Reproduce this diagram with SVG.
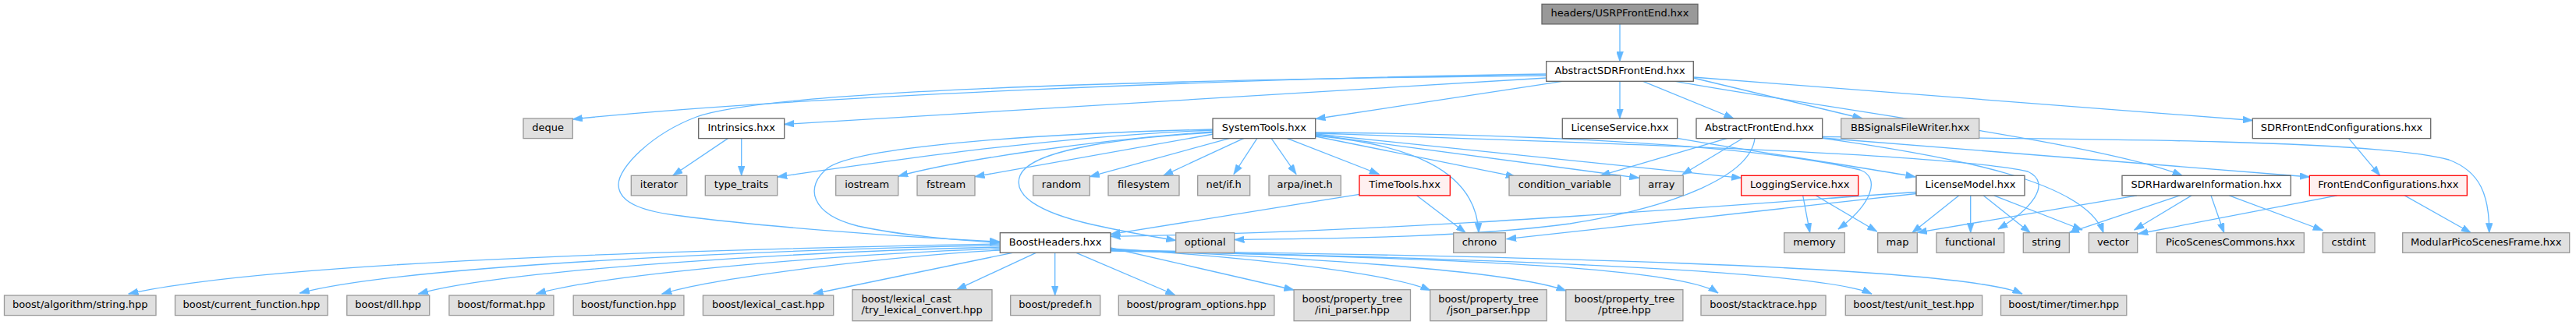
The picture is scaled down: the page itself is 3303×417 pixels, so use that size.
<svg xmlns="http://www.w3.org/2000/svg" width="3303" height="417" viewBox="0 0 3303 417">
<style>
text{font-family:"DejaVu Sans","Liberation Sans",sans-serif;font-size:13px;fill:#000;text-anchor:middle}
text.l{text-anchor:start}
.w{fill:#fff;stroke:#666;stroke-width:1.3}
.g{fill:#e0e0e0;stroke:#999;stroke-width:1.3}
.r{fill:#fff0f0;stroke:#f00;stroke-width:1.3}
.h{fill:#999;stroke:#666;stroke-width:1.3}
#edges path{fill:none;stroke:#63b8ff;stroke-width:1.3;marker-end:url(#ah)}
</style>
<defs>
<marker id="ah" viewBox="0 0 13 9" refX="12.5" refY="4.5" markerWidth="13" markerHeight="9" markerUnits="userSpaceOnUse" orient="auto"><path d="M0,0 L13,4.5 L0,9 z" fill="#63b8ff" stroke="#63b8ff" stroke-width="0.5"/></marker>
</defs>
<rect width="3303" height="417" fill="#fff"/>
<g id="edges">
<path d="M2077,31 L2077,78.7"/>
<path d="M1982.7,95 C1600,100 1000,125 734.3,153"/>
<path d="M1982.7,100 L1005.7,159.5"/>
<path d="M1982.7,97 C1600,101 1000,112 893,150 C835,172 793,215 793,237 C793,262 830,272 873,277 C970,290 1150,304 1281.7,310"/>
<path d="M2003.3,104.3 L1687,152.5"/>
<path d="M2077,104.3 L2077,152"/>
<path d="M2106.7,104.3 L2223,152"/>
<path d="M2171.3,100 L2388,152"/>
<path d="M2171.3,99 L2888.3,154.5"/>
<path d="M2148,104.3 C2350,140 2700,185 2798,225.3"/>
<path d="M933.3,177.6 L862.7,225.3"/>
<path d="M950.7,177.6 L950.7,225.3"/>
<path d="M1555,167 C1350,175 1150,205 996.7,227"/>
<path d="M1555,169 C1400,180 1230,205 1151.7,226"/>
<path d="M1556,172 L1250,226.7"/>
<path d="M1577,177.3 L1397.3,226.7"/>
<path d="M1595,177.3 L1491.7,225.3"/>
<path d="M1612,177.3 L1582,223.5"/>
<path d="M1630,177.3 L1662,223.5"/>
<path d="M1650,177.3 L1768.3,223.5"/>
<path d="M1555,166 C1300,172 1100,190 1062,215 C1030,240 1040,275 1100,290 C1160,303 1230,308 1281.7,311.5"/>
<path d="M1555,170 C1420,178 1320,195 1308,225 C1298,250 1330,272 1400,288 C1440,297 1480,304 1507.7,308.5"/>
<path d="M1687,174 C1800,185 1893,215 1896,298.7"/>
<path d="M1687,175 L1943.3,226.7"/>
<path d="M1687,173 L2101.7,228.3"/>
<path d="M1687,172 L2232.7,228.3"/>
<path d="M1687,170 C1950,172 2250,185 2385,218 C2412,228 2400,262 2357,294"/>
<path d="M1687,171 C2100,185 2500,198 2600,220 C2632,235 2605,268 2562,294"/>
<path d="M2150.7,177.3 C2250,195 2380,213 2456,227"/>
<path d="M2215,177.3 L2052,225.3"/>
<path d="M2235,177.3 L2157,224"/>
<path d="M2250,177.3 C2245,225 2150,265 2013,287 C1880,305 1700,306 1583,307.5"/>
<path d="M2336.7,175.5 C2700,178 3050,180 3140,205 C3180,220 3192,250 3191.7,298.7"/>
<path d="M2336.7,177 L2961.3,227"/>
<path d="M2336.7,177.3 C2520,203 2675,235 2697,298.7"/>
<path d="M1743,249.3 L1424,300.7"/>
<path d="M1816.7,250.9 L1879.3,298.7"/>
<path d="M2311.7,250.9 L2320.7,298.7"/>
<path d="M2328.3,250.9 L2406.7,297"/>
<path d="M2511.7,250.9 L2451.7,298.7"/>
<path d="M2526.7,250.9 L2526.7,298.7"/>
<path d="M2543.3,250.9 L2603.3,298.7"/>
<path d="M2556.7,250.9 L2670,295"/>
<path d="M2457,246.5 C2200,264 1800,298 1424,303.3"/>
<path d="M2457,248.5 L1931.7,306.7"/>
<path d="M2740,250.9 L2458.3,298.3"/>
<path d="M2795,250.9 L2653.3,298.3"/>
<path d="M2810,250.9 L2736.7,295"/>
<path d="M2835,250.9 L2851.7,298.7"/>
<path d="M2858.3,250.9 L2978.3,295.5"/>
<path d="M2996.7,250.9 L2741.7,300"/>
<path d="M3083.3,250.9 L3168.3,298.7"/>
<path d="M3011.7,177.6 L3051.7,225.3"/>
<path d="M1282.3,313 C900,320 350,335 164.9,377"/>
<path d="M1282.3,315 C1000,320 520,340 384.4,376"/>
<path d="M1282.3,317 C1050,322 650,345 536.6,377"/>
<path d="M1282.3,319 C1100,325 780,350 687.5,377"/>
<path d="M1282.3,321 C1150,328 920,355 848.8,377"/>
<path d="M1298.3,324.3 L1043,377"/>
<path d="M1328.3,324.3 L1226.7,371.7"/>
<path d="M1352.7,324.3 L1352.7,379"/>
<path d="M1380,324.3 L1506.7,378.5"/>
<path d="M1424,318 L1659,372"/>
<path d="M1424,319 C1600,330 1780,350 1834,372.5"/>
<path d="M1424,320 C1650,330 1930,345 2008,373"/>
<path d="M1424,321 C1800,330 2150,340 2203,376"/>
<path d="M1424,322 C1850,330 2330,345 2400,377"/>
<path d="M1424,321 C1900,328 2510,340 2593,377"/>
</g>
<g id="n-header"><rect class="h" x="1977" y="5.3" width="200" height="25.6"/><text x="2077" y="21.3">headers/USRPFrontEnd.hxx</text></g>
<g id="n-abstractsdr"><rect class="w" x="1982.7" y="78.7" width="188.6" height="25.6"/><text x="2077" y="94.7">AbstractSDRFrontEnd.hxx</text></g>
<g id="n-deque"><rect class="g" x="671" y="152" width="63.3" height="25.6"/><text x="702.65" y="168">deque</text></g>
<g id="n-intrinsics"><rect class="w" x="895.7" y="152" width="110" height="25.6"/><text x="950.7" y="168">Intrinsics.hxx</text></g>
<g id="n-systemtools"><rect class="w" x="1555" y="152" width="131.7" height="25.6"/><text x="1620.85" y="168">SystemTools.hxx</text></g>
<g id="n-licenseservice"><rect class="w" x="2003.3" y="152" width="147.4" height="25.6"/><text x="2077" y="168">LicenseService.hxx</text></g>
<g id="n-abstractfrontend"><rect class="w" x="2175" y="152" width="161.7" height="25.6"/><text x="2255.85" y="168">AbstractFrontEnd.hxx</text></g>
<g id="n-bbsignals"><rect class="g" x="2360.7" y="152" width="177" height="25.6"/><text x="2449.2" y="168">BBSignalsFileWriter.hxx</text></g>
<g id="n-sdrfec"><rect class="w" x="2888.3" y="152" width="228.4" height="25.6"/><text x="3002.5" y="168">SDRFrontEndConfigurations.hxx</text></g>
<g id="n-iterator"><rect class="g" x="809.3" y="225.3" width="71.4" height="25.6"/><text x="845" y="241.3">iterator</text></g>
<g id="n-type_traits"><rect class="g" x="904.3" y="225.3" width="92.4" height="25.6"/><text x="950.5" y="241.3">type_traits</text></g>
<g id="n-iostream"><rect class="g" x="1071.7" y="225.3" width="80" height="25.6"/><text x="1111.7" y="241.3">iostream</text></g>
<g id="n-fstream"><rect class="g" x="1176" y="225.3" width="74" height="25.6"/><text x="1213" y="241.3">fstream</text></g>
<g id="n-random"><rect class="g" x="1324.7" y="225.3" width="72.6" height="25.6"/><text x="1361" y="241.3">random</text></g>
<g id="n-filesystem"><rect class="g" x="1421" y="225.3" width="91" height="25.6"/><text x="1466.5" y="241.3">filesystem</text></g>
<g id="n-netif"><rect class="g" x="1535.7" y="225.3" width="67" height="25.6"/><text x="1569.2" y="241.3">net/if.h</text></g>
<g id="n-arpainet"><rect class="g" x="1627" y="225.3" width="92.3" height="25.6"/><text x="1673.15" y="241.3">arpa/inet.h</text></g>
<g id="n-timetools"><rect class="r" x="1743" y="225.3" width="116.3" height="25.6"/><text x="1801.15" y="241.3">TimeTools.hxx</text></g>
<g id="n-condvar"><rect class="g" x="1935" y="225.3" width="142.7" height="25.6"/><text x="2006.35" y="241.3">condition_variable</text></g>
<g id="n-array"><rect class="g" x="2102.3" y="225.3" width="56" height="25.6"/><text x="2130.3" y="241.3">array</text></g>
<g id="n-logging"><rect class="r" x="2232.7" y="225.3" width="150" height="25.6"/><text x="2307.7" y="241.3">LoggingService.hxx</text></g>
<g id="n-licensemodel"><rect class="w" x="2457" y="225.3" width="139" height="25.6"/><text x="2526.5" y="241.3">LicenseModel.hxx</text></g>
<g id="n-sdrhw"><rect class="w" x="2721" y="225.3" width="216.3" height="25.6"/><text x="2829.15" y="241.3">SDRHardwareInformation.hxx</text></g>
<g id="n-fec"><rect class="r" x="2961.3" y="225.3" width="202" height="25.6"/><text x="3062.3" y="241.3">FrontEndConfigurations.hxx</text></g>
<g id="n-boostheaders"><rect class="w" x="1282.3" y="298.7" width="141.7" height="25.6"/><text x="1353.15" y="314.7">BoostHeaders.hxx</text></g>
<g id="n-optional"><rect class="g" x="1507.7" y="298.7" width="75" height="25.6"/><text x="1545.2" y="314.7">optional</text></g>
<g id="n-chrono"><rect class="g" x="1863.7" y="298.7" width="66.6" height="25.6"/><text x="1897" y="314.7">chrono</text></g>
<g id="n-memory"><rect class="g" x="2287.7" y="298.7" width="77.6" height="25.6"/><text x="2326.5" y="314.7">memory</text></g>
<g id="n-map"><rect class="g" x="2407.7" y="298.7" width="50.6" height="25.6"/><text x="2433" y="314.7">map</text></g>
<g id="n-functional"><rect class="g" x="2483" y="298.7" width="86.7" height="25.6"/><text x="2526.35" y="314.7">functional</text></g>
<g id="n-string"><rect class="g" x="2594.3" y="298.7" width="59" height="25.6"/><text x="2623.8" y="314.7">string</text></g>
<g id="n-vector"><rect class="g" x="2678.3" y="298.7" width="62.4" height="25.6"/><text x="2709.5" y="314.7">vector</text></g>
<g id="n-picoscenescommons"><rect class="g" x="2765.3" y="298.7" width="189" height="25.6"/><text x="2859.8" y="314.7">PicoScenesCommons.hxx</text></g>
<g id="n-cstdint"><rect class="g" x="2978.3" y="298.7" width="66.7" height="25.6"/><text x="3011.65" y="314.7">cstdint</text></g>
<g id="n-modularframe"><rect class="g" x="3080.7" y="298.7" width="214" height="25.6"/><text x="3187.7" y="314.7">ModularPicoScenesFrame.hxx</text></g>
<g id="n-b-algorithm"><rect class="g" x="5.5" y="379" width="194.5" height="25.6"/><text x="102.75" y="395">boost/algorithm/string.hpp</text></g>
<g id="n-b-curfunc"><rect class="g" x="224.5" y="379" width="195.7" height="25.6"/><text x="322.35" y="395">boost/current_function.hpp</text></g>
<g id="n-b-dll"><rect class="g" x="444.8" y="379" width="105.9" height="25.6"/><text x="497.75" y="395">boost/dll.hpp</text></g>
<g id="n-b-format"><rect class="g" x="575.9" y="379" width="134" height="25.6"/><text x="642.9" y="395">boost/format.hpp</text></g>
<g id="n-b-function"><rect class="g" x="735.2" y="379" width="141.7" height="25.6"/><text x="806.05" y="395">boost/function.hpp</text></g>
<g id="n-b-lexcast"><rect class="g" x="901.4" y="379" width="167.3" height="25.6"/><text x="985.05" y="395">boost/lexical_cast.hpp</text></g>
<g id="n-b-trylex"><rect class="g" x="1093" y="371.7" width="179" height="40"/><text class="l" x="1104.5" y="387.7">boost/lexical_cast</text><text class="l" x="1104.5" y="402">/try_lexical_convert.hpp</text></g>
<g id="n-b-predef"><rect class="g" x="1295.7" y="379" width="115" height="25.6"/><text x="1353.2" y="395">boost/predef.h</text></g>
<g id="n-b-progopt"><rect class="g" x="1434.3" y="379" width="199.6" height="25.6"/><text x="1534.1" y="395">boost/program_options.hpp</text></g>
<g id="n-b-ini"><rect class="g" x="1659.1" y="371.7" width="149.4" height="40"/><text x="1733.8" y="387.7">boost/property_tree</text><text x="1733.8" y="402">/ini_parser.hpp</text></g>
<g id="n-b-json"><rect class="g" x="1833.8" y="371.7" width="149.4" height="40"/><text x="1908.5" y="387.7">boost/property_tree</text><text x="1908.5" y="402">/json_parser.hpp</text></g>
<g id="n-b-ptree"><rect class="g" x="2007.8" y="371.7" width="150.1" height="40"/><text x="2082.85" y="387.7">boost/property_tree</text><text x="2082.85" y="402">/ptree.hpp</text></g>
<g id="n-b-stacktrace"><rect class="g" x="2181" y="379" width="160" height="25.6"/><text x="2261" y="395">boost/stacktrace.hpp</text></g>
<g id="n-b-unittest"><rect class="g" x="2366.3" y="379" width="175.3" height="25.6"/><text x="2453.95" y="395">boost/test/unit_test.hpp</text></g>
<g id="n-b-timer"><rect class="g" x="2565.5" y="379" width="161.3" height="25.6"/><text x="2646.15" y="395">boost/timer/timer.hpp</text></g>
</svg>
